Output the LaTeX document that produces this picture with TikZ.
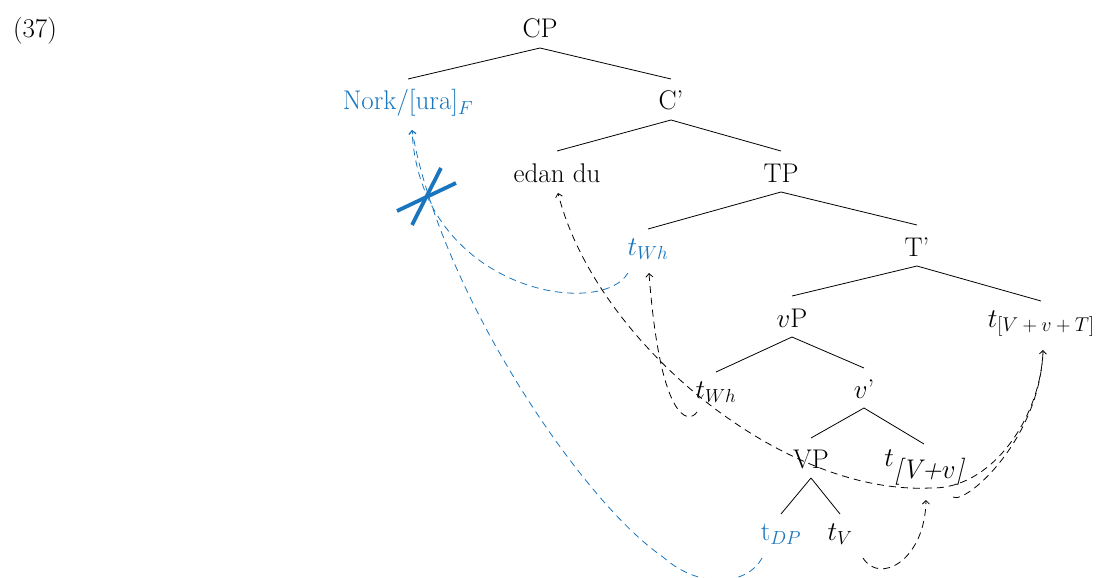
\RequirePackage{fix-cm}
\documentclass[tikz,border=0pt]{standalone}
\usetikzlibrary{arrows.meta}
\definecolor{lingblue}{RGB}{25,118,190}
\tikzset{
  lab/.style={font=\fontsize{27}{31}\selectfont, inner sep=0pt, outer sep=0pt, anchor=base, text height=31pt, text depth=10pt},
  tlab/.style={lab, text height=26pt},
  branch/.style={line width=0.8pt},
  mov/.style={dash pattern=on 7pt off 5pt, line width=0.8pt},
  tip/.style={-{Straight Barb[length=3.5pt,width=7pt]}},
  xmark/.style={line width=3.8pt, lingblue}
}
\begin{document}
\begin{tikzpicture}[x=1pt,y=1pt]
\useasboundingbox (0,0) rectangle (1096,-578);
% example number
\node[lab] (ex) at (35,-38) {(37)};
% tree nodes
\node[lab] (CP) at (540,-38) {CP};
\node[lab, text=lingblue] (Nork) at (408,-110) {Nork/[ura]$_{F}$};
\node[lab] (Cb) at (671,-110) {C’};
\node[lab] (edan) at (557,-182) {edan du};
\node[lab] (TP) at (781,-182) {TP};
\node[tlab, text=lingblue] (twhA) at (648,-255) {$t_{Wh}$};
\node[lab] (Tb) at (917,-256) {T’};
\node[lab] (vP) at (792,-327) {$v$P};
\node[tlab] (tVvT) at (1041,-327) {$t$\raisebox{-4pt}{\fontsize{20}{20}\selectfont$[V+v+T]$}};
\node[tlab] (twhB) at (716,-398) {$t_{Wh}$};
\node[lab, text height=30pt] (vb) at (864,-398) {$v$’};
\node[lab, text height=30pt] (VP) at (811,-468) {VP};
\node[lab, text height=22pt] (tVv) at (924,-466) {$t$\raisebox{-12pt}{\itshape [V+$v$]}};
\node[tlab, text=lingblue] (tDP) at (781,-540) {t$_{DP}$};
\node[tlab] (tV) at (840,-540) {$t_{V}$};
% branches
\draw[branch] (CP.south) -- (Nork.north);
\draw[branch] (CP.south) -- (Cb.north);
\draw[branch] (Cb.south) -- (edan.north);
\draw[branch] (Cb.south) -- (TP.north);
\draw[branch] (TP.south) -- (twhA.north);
\draw[branch] (TP.south) -- (Tb.north);
\draw[branch] (Tb.south) -- (vP.north);
\draw[branch] (Tb.south) -- (tVvT.north);
\draw[branch] (vP.south) -- (twhB.north);
\draw[branch] (vP.south) -- (vb.north);
\draw[branch] (vb.south) -- (VP.north);
\draw[branch] (vb.south) -- (tVv.north);
\draw[branch] (VP.south) -- (tDP.north);
\draw[branch] (VP.south) -- (tV.north);
% movement arrows (blue)
\draw[mov, lingblue, tip] ([shift={(-20,-18)}]twhA.base)
  .. controls (600,-320) and (420,-290) .. ([shift={(4,-20)}]Nork.base);
\draw[mov, lingblue, tip] ([shift={(-19,-18)}]tDP.base)
  .. controls (748,-585) and (700,-590) .. (663,-557)
  .. controls (580,-500) and (440,-290) .. ([shift={(4,-20)}]Nork.base);
% crossing mark
\draw[xmark] (397,-211) -- (456,-183);
\draw[xmark] (412,-225) -- (441,-168);
% movement arrows (black)
\draw[mov, tip] ([shift={(-19,-14)}]twhB.base)
  .. controls (688,-425) and (660,-420) .. ([shift={(1,-18)}]twhA.base);
\draw[mov, tip] ([shift={(2,-25)}]tVvT.base)
  .. controls (1040,-420) and (990,-490) .. (930,-488)
  .. controls (780,-495) and (595,-340) .. ([shift={(1,-11)}]edan.base);
\draw[mov, tip] ([shift={(29,-31)}]tVv.base)
  .. controls (965,-505) and (1040,-440) .. ([shift={(2,-23)}]tVvT.base);
\draw[mov, tip] ([shift={(23,-18)}]tV.base)
  .. controls (880,-585) and (925,-560) .. ([shift={(2,-34)}]tVv.base);
\end{tikzpicture}
\end{document}
